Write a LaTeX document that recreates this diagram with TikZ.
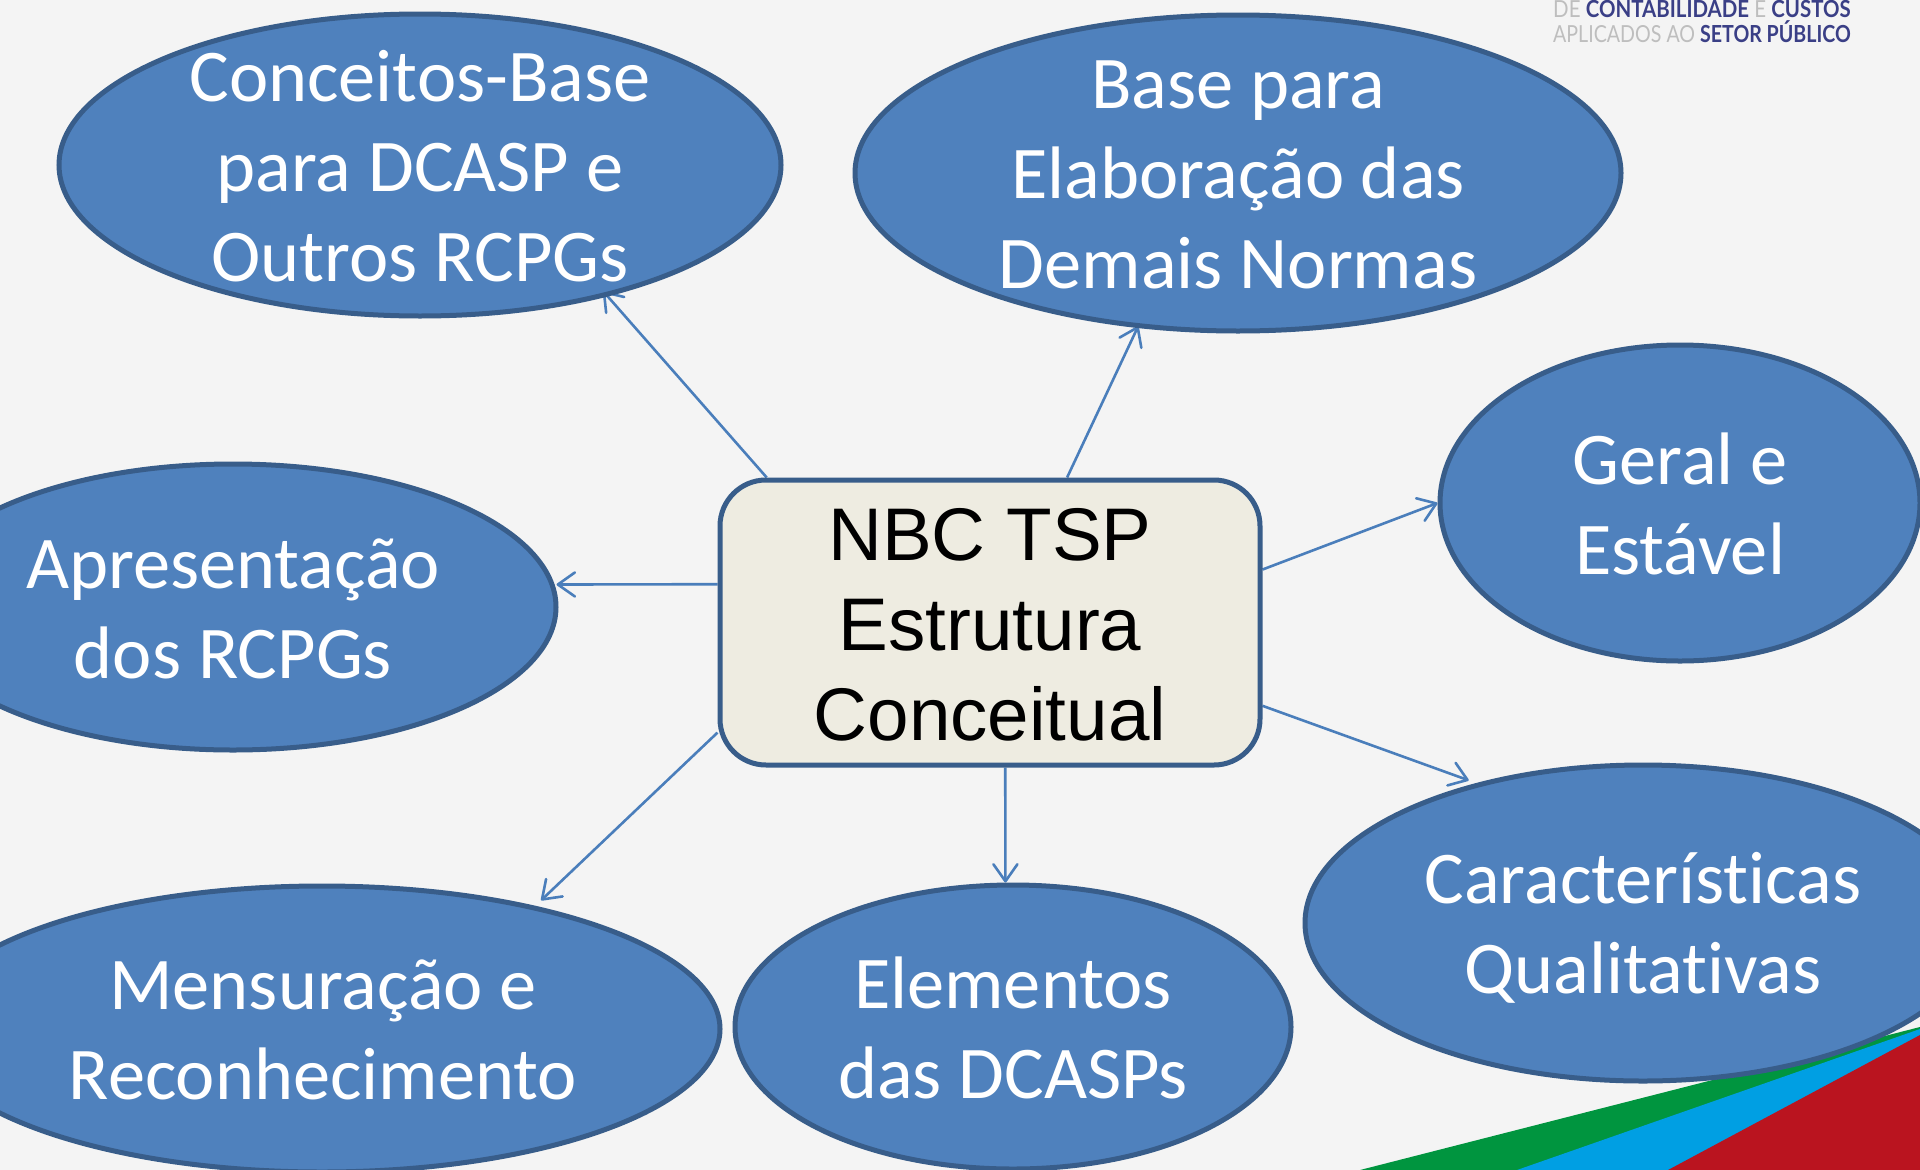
\documentclass[tikz,border=0pt]{standalone}
\usepackage{fontspec}
\setmainfont[Ligatures=NoCommon]{Carlito}
\newfontfamily\arialfont{Liberation Sans}
\newfontfamily\logofont{Lato}
\usetikzlibrary{shapes.geometric,arrows.meta,backgrounds}
\definecolor{pagebg}{HTML}{F4F4F4}
\definecolor{ellfill}{HTML}{4F81BD}
\definecolor{ellline}{HTML}{385D8A}
\definecolor{boxfill}{HTML}{EEECE1}
\definecolor{conn}{HTML}{4A7EBB}
\definecolor{wgreen}{HTML}{00953F}
\definecolor{wblue}{HTML}{009FE3}
\definecolor{wred}{HTML}{BA141F}
\definecolor{logogray}{HTML}{BEBEBE}
\definecolor{logonavy}{HTML}{3A3F86}
\tikzset{
  x=1pt,y=-1pt,
  oval/.style={ellipse,draw=ellline,fill=ellfill,line width=5pt,inner sep=0pt},
  ovaltxt/.style={text=white,align=center,font=\fontsize{74.4}{90}\selectfont,inner sep=0pt,yshift=-2pt},
  centerbox/.style={rectangle,rounded corners=46pt,draw=ellline,fill=boxfill,line width=5pt,inner sep=0pt,minimum width=540pt,minimum height=285pt},
  boxtxt/.style={text=black,align=center,font=\arialfont\fontsize{74.6}{90}\selectfont,inner sep=0pt,yshift=-2pt},
  link/.style={draw=conn,line width=2.6pt,-{Straight Barb[length=17pt,width=24pt,line width=2.6pt,round]}},
  logotxt/.style={inner sep=0pt,anchor=base east,text=logogray,transform shape,font=\logofont\fontsize{23.5}{25}\selectfont}
}
\begin{document}
\begin{tikzpicture}
\useasboundingbox (0,0) rectangle (1920,1170);
\node[oval,minimum width=722pt,minimum height=302pt,label={[ovaltxt,yshift=1pt]center:{Conceitos-Base\\para DCASP e\\Outros RCPGs}}] (e1) at (420,165) {};
\node[oval,minimum width=766pt,minimum height=316pt,label={[ovaltxt]center:{Base para\\Elaboração das\\Demais Normas}}] (e2) at (1238,173) {};
\node[oval,minimum width=480pt,minimum height=316pt,label={[ovaltxt,yshift=1pt]center:{Geral e\\Estável}}] (e3) at (1680,503) {};
\node[oval,minimum width=646pt,minimum height=286pt,label={[ovaltxt]center:{Apresentação\\dos RCPGs}}] (e4) at (233,607) {};
\node[oval,minimum width=796pt,minimum height=286pt,label={[ovaltxt,xshift=1pt,yshift=1pt]center:{Mensuração e\\Reconhecimento}}] (e5) at (322,1029) {};
\node[oval,minimum width=556pt,minimum height=284pt,label={[ovaltxt,yshift=1pt]center:{Elementos\\das DCASPs}}] (e6) at (1013,1027) {};
\node[oval,minimum width=676pt,minimum height=316pt,label={[ovaltxt,yshift=-3pt]center:{Características\\Qualitativas}}] (e7) at (1643,923) {};
\node[centerbox,label={[boxtxt]center:{NBC TSP\\Estrutura\\Conceitual}}] (box) at (990,622.5) {};
\begin{scope}[xscale=0.87]
\node[logotxt] (logo1) at (1851/0.87,17) {DE {\color{logonavy}\bfseries CONTABILIDADE} E {\color{logonavy}\bfseries CUSTOS}};
\end{scope}
\begin{scope}[xscale=0.835]
\node[logotxt] (logo2) at (1851/0.835,42) {APLICADOS AO {\color{logonavy}\bfseries SETOR PÚBLICO}};
\end{scope}
\begin{scope}[on background layer]
  \fill[pagebg] (0,0) rectangle (1920,1170);
  \fill[wgreen] (1360,1170) -- (1920,1027) -- (1920,1170) -- cycle;
  \fill[wblue] (1517,1170) -- (1920,1029) -- (1920,1170) -- cycle;
  \fill[wred] (1668,1170) -- (1920,1035) -- (1920,1170) -- cycle;
  \draw[link,shorten >=-7pt] (box.147.85) -- (e1.-35);
  \draw[link,shorten >=-2pt] (box.62.6) -- (e2.-123);
  \draw[link] (box.11.4) -- (e3.180);
  \draw[link,shorten >=2pt] (box.172.1) -- (e4.4.6);
  \draw[link,shorten >=8pt] (box.-158) -- (e5.30.5);
  \draw[link] (box.-84) -- (e6.93.2);
  \draw[link,shorten >=8pt] (box.-17.4) -- (e7.140.7);
\end{scope}
\end{tikzpicture}
\end{document}
